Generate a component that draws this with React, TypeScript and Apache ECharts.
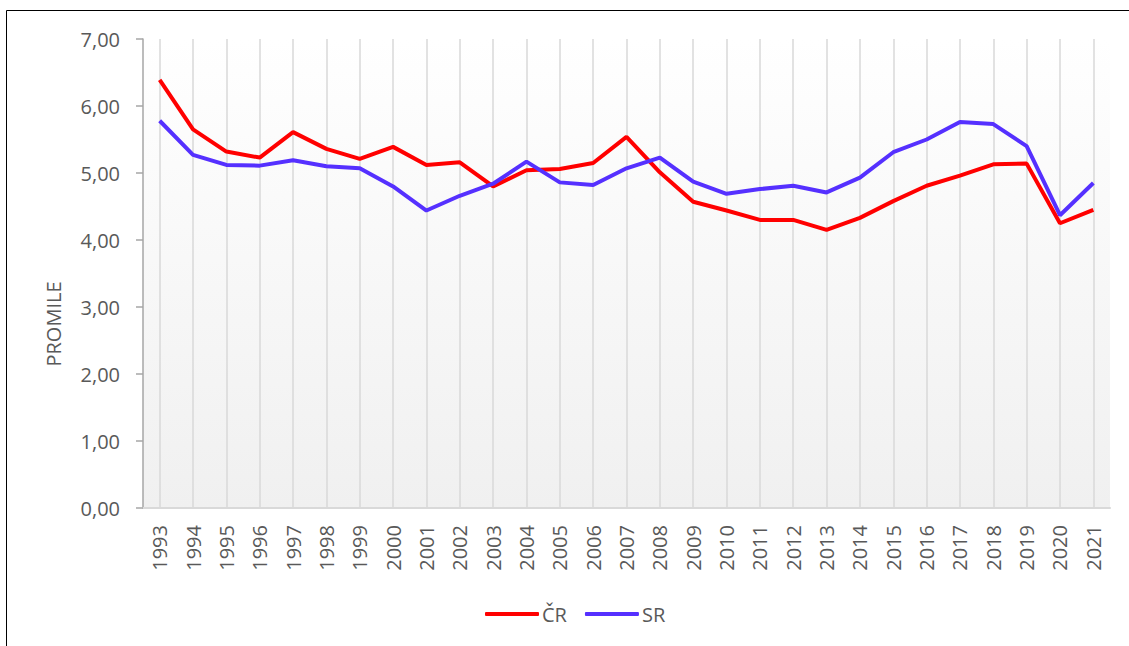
import React, { useEffect, useRef } from "react";
import * as echarts from "echarts";

const years = [
  "1993","1994","1995","1996","1997","1998","1999","2000","2001","2002",
  "2003","2004","2005","2006","2007","2008","2009","2010","2011","2012",
  "2013","2014","2015","2016","2017","2018","2019","2020","2021",
];
const crValues = [
  6.39, 5.65, 5.32, 5.23, 5.61, 5.36, 5.21, 5.39, 5.12, 5.16,
  4.80, 5.04, 5.06, 5.15, 5.54, 5.01, 4.57, 4.44, 4.30, 4.30,
  4.15, 4.33, 4.58, 4.81, 4.96, 5.13, 5.14, 4.25, 4.45,
];
const srValues = [
  5.78, 5.27, 5.12, 5.11, 5.19, 5.10, 5.07, 4.80, 4.44, 4.66,
  4.84, 5.17, 4.86, 4.82, 5.07, 5.23, 4.87, 4.69, 4.76, 4.81,
  4.71, 4.93, 5.31, 5.50, 5.76, 5.73, 5.40, 4.37, 4.85,
];
const seriesNames = ["ČR", "SR"];
const yAxisTitle = "PROMILE";

const FONT = "'Open Sans', sans-serif";
const TEXT_COLOR = "#595959";

export default function App() {
  const ref = useRef<HTMLDivElement>(null);

  useEffect(() => {
    if (!ref.current) return;
    const chart = echarts.init(ref.current, undefined, { renderer: "svg" });
    chart.setOption({
      animation: false,
      backgroundColor: "#ffffff",
      textStyle: { fontFamily: FONT },
      grid: {
        left: 143,
        right: 19,
        top: 39,
        bottom: 138,
        show: true,
        borderWidth: 0,
        backgroundColor: new echarts.graphic.LinearGradient(0, 0, 0, 1, [
          { offset: 0, color: "#ffffff" },
          { offset: 1, color: "#f0f0f0" },
        ]),
      },
      legend: {
        top: 599,
        left: 480,
        data: seriesNames,
        icon: "roundRect",
        itemWidth: 54,
        itemHeight: 4,
        itemGap: 18,
        textStyle: { fontFamily: FONT, fontSize: 20, color: TEXT_COLOR, padding: [0, 0, 0, -2] },
      },
      xAxis: {
        type: "category",
        data: years,
        boundaryGap: true,
        axisLine: { show: true, lineStyle: { color: "#d9d9d9", width: 2 } },
        axisTick: { show: false },
        axisLabel: {
          rotate: 90,
          margin: 17,
          fontFamily: FONT,
          fontSize: 20,
          color: TEXT_COLOR,
          interval: 0,
        },
        splitLine: {
          show: true,
          alignWithLabel: true,
          lineStyle: { color: "#d9d9d9", width: 1.5 },
        },
      },
      yAxis: {
        type: "value",
        min: 0,
        max: 7,
        interval: 1,
        axisLine: { show: true, lineStyle: { color: "#a6a6a6", width: 1.5 } },
        axisTick: { show: true, length: 7, lineStyle: { color: "#a6a6a6", width: 1.5 } },
        axisLabel: {
          margin: 23,
          fontFamily: FONT,
          fontSize: 20,
          color: TEXT_COLOR,
          formatter: (v: number) => v.toFixed(2).replace(".", ","),
        },
        splitLine: { show: false },
      },
      series: [
        {
          name: seriesNames[0],
          type: "line",
          data: crValues,
          symbol: "none",
          lineStyle: { color: "#ff0000", width: 4 },
          itemStyle: { color: "#ff0000" },
        },
        {
          name: seriesNames[1],
          type: "line",
          data: srValues,
          symbol: "none",
          lineStyle: { color: "#5530ff", width: 4 },
          itemStyle: { color: "#5530ff" },
        },
      ],
      graphic: [
        {
          type: "rect",
          shape: { x: 6.5, y: 10.5, width: 1300, height: 800 },
          style: { fill: "none", stroke: "#000000", lineWidth: 1 },
          silent: true,
        },
        {
          type: "text",
          x: 53,
          y: 324,
          rotation: Math.PI / 2,
          style: {
            text: yAxisTitle,
            font: `20px ${FONT}`,
            fill: TEXT_COLOR,
            textAlign: "center",
            textVerticalAlign: "middle",
          },
        },
      ],
    });
    return () => chart.dispose();
  }, []);

  return (
    <div
      ref={ref}
      style={{ position: "absolute", left: 0, top: 0, width: 1129, height: 646 }}
    />
  );
}
